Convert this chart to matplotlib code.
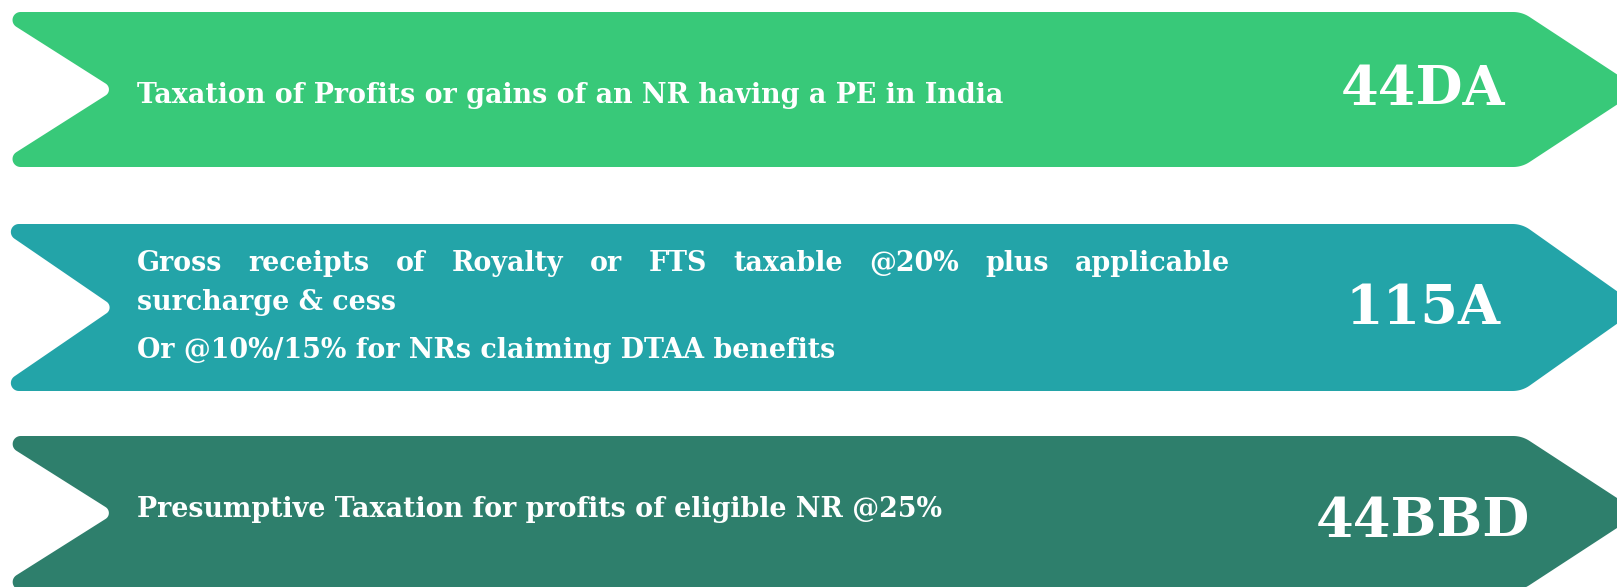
import numpy as np
import matplotlib.pyplot as plt
from matplotlib.path import Path
from matplotlib.patches import PathPatch

W, H = 1617, 587

sections = ["44DA", "115A", "44BBD"]
descriptions = [
    ["Taxation of Profits or gains of an NR having a PE in India"],
    ["Gross receipts of Royalty or FTS taxable @20% plus applicable",
     "surcharge & cess",
     "Or @10%/15% for NRs claiming DTAA benefits"],
    ["Presumptive Taxation for profits of eligible NR @25%"],
]
justified = [[False], [True, False, False], [False]]
colors = ["#38c979", "#23a4a8", "#2e7f6c"]

# arrow bands (top, bottom) in pixels
bands = [(12, 167), (224, 391), (436, 590)]
line_baselines = [[103], [271, 310, 358], [517]]
code_baselines = [105, 324, 537]

FONT = "DejaVu Serif"
DESC_SIZE = 19.4
CODE_SIZE = 39


def rounded_polygon(verts, radii, steps=16):
    # polygon with circular arcs of radius r at each corner
    verts = np.asarray(verts, dtype=float)
    n = len(verts)
    pts = []
    for i in range(n):
        v = verts[i]
        a = verts[i - 1] - v
        b = verts[(i + 1) % n] - v
        a, b = a / np.linalg.norm(a), b / np.linalg.norm(b)
        r = radii[i]
        if r <= 0:
            pts.append(v)
            continue
        theta = np.arccos(np.clip(np.dot(a, b), -1, 1))
        d = r / np.tan(theta / 2)
        p_in = v + a * d
        p_out = v + b * d
        bis = (a + b) / np.linalg.norm(a + b)
        c = v + bis * (r / np.sin(theta / 2))
        a0 = np.arctan2(*(p_in - c)[::-1])
        a1 = np.arctan2(*(p_out - c)[::-1])
        da = (a1 - a0 + np.pi) % (2 * np.pi) - np.pi
        for t in np.linspace(0, 1, steps):
            ang = a0 + da * t
            pts.append(c + r * np.array([np.cos(ang), np.sin(ang)]))
    pts.append(pts[0])
    codes = [Path.MOVETO] + [Path.LINETO] * (len(pts) - 2) + [Path.CLOSEPOLY]
    return Path(pts, codes)


def arrow_path(top, bot):
    cy = (top + bot) / 2
    verts = [(-7, top), (1522, top), (1640, cy), (1522, bot), (-7, bot), (115, cy)]
    radii = [8, 30, 0, 30, 8, 7]
    return rounded_polygon(verts, radii)


fig = plt.figure(figsize=(W / 100, H / 100), dpi=100)
ax = fig.add_axes([0, 0, 1, 1])
ax.set_xlim(0, W)
ax.set_ylim(H, 0)
ax.axis("off")
renderer = fig.canvas.get_renderer()

text_left = 137
text_right = 1230

for i in range(len(sections)):
    top, bot = bands[i]
    ax.add_patch(PathPatch(arrow_path(top, bot), facecolor=colors[i],
                           edgecolor="none"))

    for line, just, base in zip(descriptions[i], justified[i], line_baselines[i]):
        if not just:
            ax.text(text_left, base, line, color="white", fontsize=DESC_SIZE,
                    fontweight="bold", family=FONT, va="baseline", ha="left")
            continue
        # spread the words so the line fills the full text width
        words = line.split()
        objs = [ax.text(0, base, w, color="white", fontsize=DESC_SIZE,
                        fontweight="bold", family=FONT, va="baseline", ha="left")
                for w in words]
        widths = [t.get_window_extent(renderer).width for t in objs]
        gap = (text_right - text_left - sum(widths)) / (len(words) - 1)
        x = text_left
        for t, w in zip(objs, widths):
            t.set_x(x)
            x += w + gap

    ax.text(1423, code_baselines[i], sections[i], color="white",
            fontsize=CODE_SIZE, fontweight="bold", family=FONT,
            va="baseline", ha="center")

fig.savefig("out.png", dpi=100, facecolor="white")
